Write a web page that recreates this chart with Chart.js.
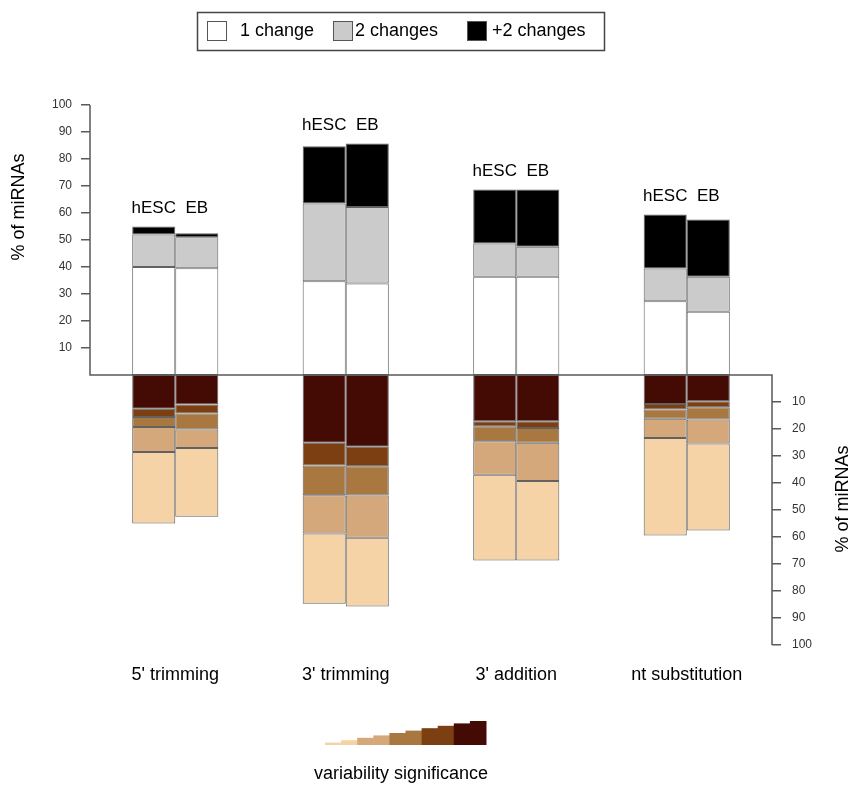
<!DOCTYPE html>
<html>
<head>
<meta charset="utf-8">
<script src="https://cdn.jsdelivr.net/npm/chart.js@4/dist/chart.umd.min.js"></script>
<style>
  html, body { margin: 0; padding: 0; background: #fff; }
  #wrap { position: relative; width: 858px; height: 790px; }
</style>
</head>
<body>
<div id="wrap"><canvas id="c"></canvas></div>
<script>
// Modification types (x categories) and the two samples per type
const categories = ["5' trimming", "3' trimming", "3' addition", "nt substitution"];
const samples = ["hESC", "EB"];

// Upper half: % of miRNAs by number of changes (stacked upwards)
const oneChangeHESC  = [40.0, 34.7, 36.4, 27.3];
const oneChangeEB    = [39.5, 33.9, 36.4, 23.4];
const twoChangesHESC = [12.0, 28.8, 12.3, 12.1];
const twoChangesEB   = [11.5, 28.3, 11.1, 13.0];
const moreChangesHESC = [3.0, 21.2, 20.0, 20.0];
const moreChangesEB   = [1.5, 23.5, 21.2, 21.2];

// Lower half: % of miRNAs by variability significance, most significant first
const sigLevel1HESC = [12.5, 25.1, 17.1, 10.7];
const sigLevel1EB   = [10.9, 26.6, 17.1, 9.7];
const sigLevel2HESC = [3.1, 8.4, 1.9, 2.1];
const sigLevel2EB   = [3.4, 7.2, 2.5, 2.2];
const sigLevel3HESC = [3.7, 11.0, 5.5, 3.4];
const sigLevel3EB   = [5.9, 10.8, 5.5, 4.6];
const sigLevel4HESC = [9.2, 14.2, 12.4, 7.1];
const sigLevel4EB   = [6.8, 15.7, 14.2, 8.9];
const sigLevel5HESC = [26.5, 26.0, 31.8, 36.1];
const sigLevel5EB   = [25.5, 25.4, 29.4, 32.2];

// Tick values shown on both percentage axes
const axisTicks = [10, 20, 30, 40, 50, 60, 70, 80, 90, 100];

const changeLabels = ["1 change", "2 changes", "+2 changes"];
const changeColors = ["#ffffff", "#cbcbcb", "#000000"];
const sigColors = ["#430b03", "#7b3f12", "#a97840", "#d4a87a", "#f6d3a6"];

const FONT = "'Liberation Sans', Arial, Helvetica, sans-serif";
const EDGE = "rgba(70,70,70,0.85)";
const AXIS = "#5a5a5a";

function barSet(label, data, stack, color) {
  return {
    label, data, stack,
    backgroundColor: color,
    borderColor: EDGE,
    borderWidth: 1,
    borderSkipped: false
  };
}
const neg = arr => arr.map(v => -v);

const upper = [
  [oneChangeHESC, oneChangeEB],
  [twoChangesHESC, twoChangesEB],
  [moreChangesHESC, moreChangesEB]
];
const lower = [
  [sigLevel1HESC, sigLevel1EB],
  [sigLevel2HESC, sigLevel2EB],
  [sigLevel3HESC, sigLevel3EB],
  [sigLevel4HESC, sigLevel4EB],
  [sigLevel5HESC, sigLevel5EB]
];

const datasets = [];
upper.forEach((pair, k) => {
  samples.forEach((s, si) => datasets.push(barSet(changeLabels[k] + " " + s, pair[si], s, changeColors[k])));
});
lower.forEach((pair, k) => {
  samples.forEach((s, si) => datasets.push(barSet("significance " + (k + 1) + " " + s, neg(pair[si]), s, sigColors[k])));
});

// Totals of the upper stacks, used to place the sample names
const upperTotal = si => categories.map((_, i) => upper.reduce((t, pair) => t + pair[si][i], 0));

const decorations = {
  id: 'decorations',
  afterDraw(chart) {
    const ctx = chart.ctx;
    const area = chart.chartArea;
    const yL = chart.scales.y;
    const y0 = yL.getPixelForValue(0);

    // partial axis lines: left (0..100), baseline, right (0..-100)
    ctx.save();
    ctx.strokeStyle = AXIS;
    ctx.lineWidth = 1.5;
    ctx.beginPath();
    ctx.moveTo(area.left, yL.getPixelForValue(100));
    ctx.lineTo(area.left, y0);
    ctx.lineTo(area.right, y0);
    ctx.lineTo(area.right, yL.getPixelForValue(-100));
    ctx.stroke();

    // sample names above each pair of bars
    ctx.fillStyle = "#000";
    ctx.font = "17px " + FONT;
    ctx.textAlign = "center";
    ctx.textBaseline = "middle";
    const totH = upperTotal(0), totE = upperTotal(1);
    const metaH = chart.getDatasetMeta(0), metaE = chart.getDatasetMeta(1);
    categories.forEach((_, i) => {
      const yy = yL.getPixelForValue(Math.max(totH[i], totE[i]) + 6.8);
      ctx.fillText(samples[0], metaH.data[i].x, yy);
      ctx.fillText(samples[1], metaE.data[i].x, yy);
    });

    // axis titles
    ctx.font = "18px " + FONT;
    ctx.save();
    ctx.translate(19, 207);
    ctx.rotate(-Math.PI / 2);
    ctx.fillText("% of miRNAs", 0, 0);
    ctx.restore();
    ctx.save();
    ctx.translate(843, 499);
    ctx.rotate(-Math.PI / 2);
    ctx.fillText("% of miRNAs", 0, 0);
    ctx.restore();

    // legend for the number of changes
    ctx.strokeStyle = "#444";
    ctx.lineWidth = 1.5;
    ctx.strokeRect(197.5, 12.5, 407, 38);
    const items = [
      { box: 207, text: 240 },
      { box: 333, text: 355 },
      { box: 467, text: 492 }
    ];
    ctx.textAlign = "left";
    items.forEach((it, k) => {
      ctx.fillStyle = changeColors[k];
      ctx.fillRect(it.box, 21, 20, 20);
      ctx.strokeStyle = "#555";
      ctx.lineWidth = 1;
      ctx.strokeRect(it.box + 0.5, 21.5, 19, 19);
      ctx.fillStyle = "#000";
      ctx.fillText(changeLabels[k], it.text, 31.5);
    });

    // staircase key for variability significance
    const stepW = 16.1, x0 = 325, base = 745;
    for (let s = 0; s < 10; s++) {
      ctx.fillStyle = sigColors[4 - Math.floor(s / 2)];
      const h = 2.4 * (s + 1);
      ctx.fillRect(x0 + s * stepW, base - h, stepW + 0.5, h);
    }
    ctx.fillStyle = "#000";
    ctx.textAlign = "center";
    ctx.font = "18px " + FONT;
    ctx.fillText("variability significance", 401, 774);
    ctx.restore();
  }
};

const tickFont = { family: FONT, size: 12 };

new Chart(document.getElementById('c'), {
  type: 'bar',
  data: { labels: categories, datasets },
  options: {
    responsive: true,
    maintainAspectRatio: false,
    animation: false,
    events: [],
    layout: { padding: { top: 105, left: 0, right: 0, bottom: 0 } },
    plugins: { legend: { display: false }, tooltip: { enabled: false } },
    datasets: { bar: { categoryPercentage: 0.505, barPercentage: 1.0 } },
    scales: {
      x: {
        stacked: true,
        grid: { display: false },
        border: { display: false },
        ticks: { color: "#000", font: { family: FONT, size: 18 }, padding: 11 },
        afterFit(scale) { scale.height = 145; }
      },
      y: {
        position: 'left',
        stacked: true,
        min: -100, max: 100,
        afterBuildTicks(scale) {
          scale.ticks = axisTicks.map(v => ({ value: v }));
        },
        ticks: {
          color: "#333",
          font: tickFont,
          padding: 9,
          callback: v => String(v)
        },
        grid: {
          drawOnChartArea: false,
          drawTicks: true,
          tickLength: 9,
          color: AXIS,
          lineWidth: 1.5
        },
        border: { display: false },
        afterFit(scale) { scale.width = 90; }
      },
      y2: {
        position: 'right',
        min: -100, max: 100,
        afterBuildTicks(scale) {
          scale.ticks = axisTicks.map(v => ({ value: -v }));
        },
        ticks: {
          color: "#333",
          font: tickFont,
          padding: 11,
          callback: v => String(-v)
        },
        grid: {
          drawOnChartArea: false,
          drawTicks: true,
          tickLength: 9,
          color: AXIS,
          lineWidth: 1.5
        },
        border: { display: false },
        afterFit(scale) { scale.width = 86; }
      }
    }
  },
  plugins: [decorations]
});
</script>
</body>
</html>
